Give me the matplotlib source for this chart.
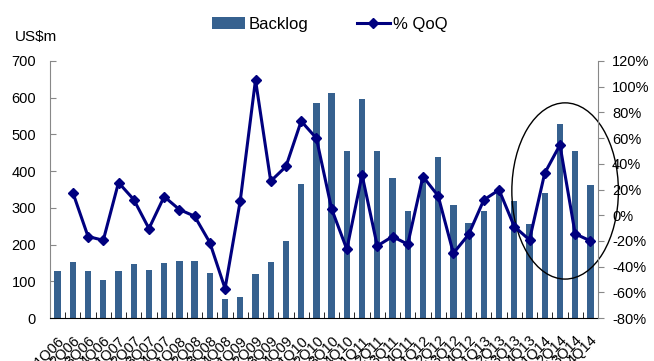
import matplotlib
matplotlib.use("Agg")
import matplotlib.pyplot as plt
from matplotlib.patches import Ellipse
import numpy as np

plt.rcParams['font.family'] = ['Liberation Sans', 'DejaVu Sans']

quarters = [f"{q}Q{y:02d}" for y in range(6, 15) for q in range(1, 5)]
backlog = [129, 153, 128, 103, 129, 146, 131, 150, 156, 156, 123, 52,
           58, 121, 153, 211, 366, 585, 613, 454, 596, 456, 380, 292,
           380, 438, 308, 260, 292, 350, 318, 257, 341, 529, 454, 362]
qoq = [np.nan, 17.6, -16.6, -19.5, 25.4, 12.2, -10.4, 14.5, 4.4, -0.8, -21.3, -57.1,
       11.4, 105.3, 26.5, 37.9, 73.2, 59.9, 4.9, -26.5, 31.4, -23.9, -16.6, -22.6,
       30.1, 15.0, -29.6, -15.0, 11.9, 19.7, -8.8, -19.2, 32.7, 54.7, -14.5, -20.0]
left_ticks = [0, 100, 200, 300, 400, 500, 600, 700]
right_ticks = [-80, -60, -40, -20, 0, 20, 40, 60, 80, 100, 120]

bar_color = '#36618F'
line_color = '#00007F'

fig = plt.figure(figsize=(6.54, 3.61), dpi=100)
ax = fig.add_axes([50/654, 1-318/361, 548/654, 257/361])
x = np.arange(len(quarters))
bars = ax.bar(x, backlog, width=0.42, color=bar_color, label='Backlog', zorder=2)
ax.set_xlim(-0.5, len(quarters) - 0.5)
ax.set_ylim(0, 700)
ax.set_yticks(left_ticks)
ax.set_yticklabels([str(t) for t in left_ticks], fontsize=10.5)
ax.set_xticks(x)
ax.set_xticklabels(quarters, rotation=45, ha='right', rotation_mode='anchor', fontsize=10.5)
ax.tick_params(axis='x', length=0, pad=11)
ax.set_xticks(np.arange(-0.5, len(quarters)), minor=True)
ax.tick_params(axis='x', which='minor', direction='in', length=4, color='black')
ax.tick_params(axis='y', direction='in', length=4, color='#888888', pad=10)
ax.spines['top'].set_visible(False)
ax.spines['right'].set_visible(False)
ax.spines['left'].set_color('#888888')
ax.spines['bottom'].set_color('black')

ax2 = ax.twinx()
line, = ax2.plot(x, qoq, color=line_color, lw=2.2, marker='D', markersize=5.5,
                 label='% QoQ', zorder=3)
ax2.set_ylim(-80, 120)
ax2.set_yticks(right_ticks)
ax2.set_yticklabels([f"{t}%" for t in right_ticks], fontsize=10.5)
ax2.tick_params(axis='y', direction='out', length=4, color='#888888', pad=6)
ax2.spines['top'].set_visible(False)
ax2.spines['left'].set_visible(False)
ax2.spines['bottom'].set_visible(False)
ax2.spines['right'].set_color('#888888')

ell = Ellipse((33.34, 346), width=7.0, height=480, fill=False, edgecolor='black',
              lw=1.0, zorder=5, clip_on=False)
ax.add_patch(ell)

fig.text(15/654, 1-37/361, 'US$m', fontsize=11, va='center', ha='left')
leg = fig.legend([bars, line], ['Backlog', '% QoQ'], loc='center',
                 bbox_to_anchor=(330/654, 1-24/361),
                 ncol=2, frameon=False, fontsize=12, handlelength=2.0, handletextpad=0.2,
                 columnspacing=2.9, borderpad=0, borderaxespad=0)

fig.savefig('out.png', dpi=100)
